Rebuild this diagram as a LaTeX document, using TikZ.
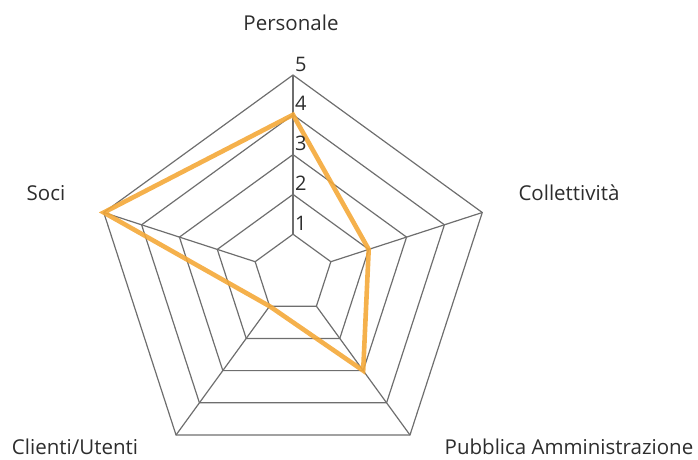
\documentclass[tikz,border=0pt]{standalone}
\usepackage{fontspec}
\setmainfont{Open Sans}
\usetikzlibrary{calc}
\definecolor{gridgray}{RGB}{110,110,110}
\definecolor{serieorange}{RGB}{244,168,56}
\definecolor{labelgray}{RGB}{45,45,45}
\begin{document}
\begin{tikzpicture}[x=1pt,y=1pt,
  gridline/.style={draw=gridgray,line width=1.2pt,line join=miter},
  serie/.style={draw=serieorange,line width=4.6pt,line join=miter,opacity=0.9},
  catlabel/.style={font=\fontsize{20.5}{24}\selectfont,text=labelgray,inner sep=0pt},
  vallabel/.style={font=\fontsize{20}{24}\selectfont,text=labelgray,inner sep=0pt,anchor=base west}]
\useasboundingbox (0,0) rectangle (698,459);
\coordinate (C) at (293,185);
\def\unit{39.8}
% grid rings
\foreach \k in {1,...,5}{
  \draw[gridline] ($(C)+(90:\k*\unit)$) -- ($(C)+(18:\k*\unit)$) -- ($(C)+(-54:\k*\unit)$) -- ($(C)+(-126:\k*\unit)$) -- ($(C)+(162:\k*\unit)$) -- cycle;
}
% spokes
\foreach \a in {90,18,-54,-126,162}{
  \draw[gridline] ($(C)+(\a:\unit)$) -- ($(C)+(\a:5*\unit)$);
}
% data points
\coordinate (pPers) at ($(C)+(90:4*\unit)$);
\coordinate (pColl) at ($(C)+(18:2*\unit)$);
\coordinate (pPA) at ($(C)+(-54:3*\unit)$);
\coordinate (pCli) at ($(C)+(-126:1*\unit)$);
\coordinate (pSoci) at ($(C)+(162:5*\unit)$);
\draw[serie] (pPers) -- (pColl) -- (pPA) -- (pCli) -- (pSoci) -- cycle;
% value labels
\foreach \k in {1,...,5}{
  \node[vallabel] (v\k) at ($(C)+(90:\k*\unit)+(2,4)$) {\k};
}
% category labels
\node[catlabel] (lPers) at (291,436) {Personale};
\node[catlabel] (lColl) at (569,266) {Collettività};
\node[catlabel] (lPA) at (569,12) {Pubblica Amministrazione};
\node[catlabel] (lCli) at (75,12) {Clienti/Utenti};
\node[catlabel] (lSoci) at (46,266) {Soci};
\end{tikzpicture}
\end{document}
